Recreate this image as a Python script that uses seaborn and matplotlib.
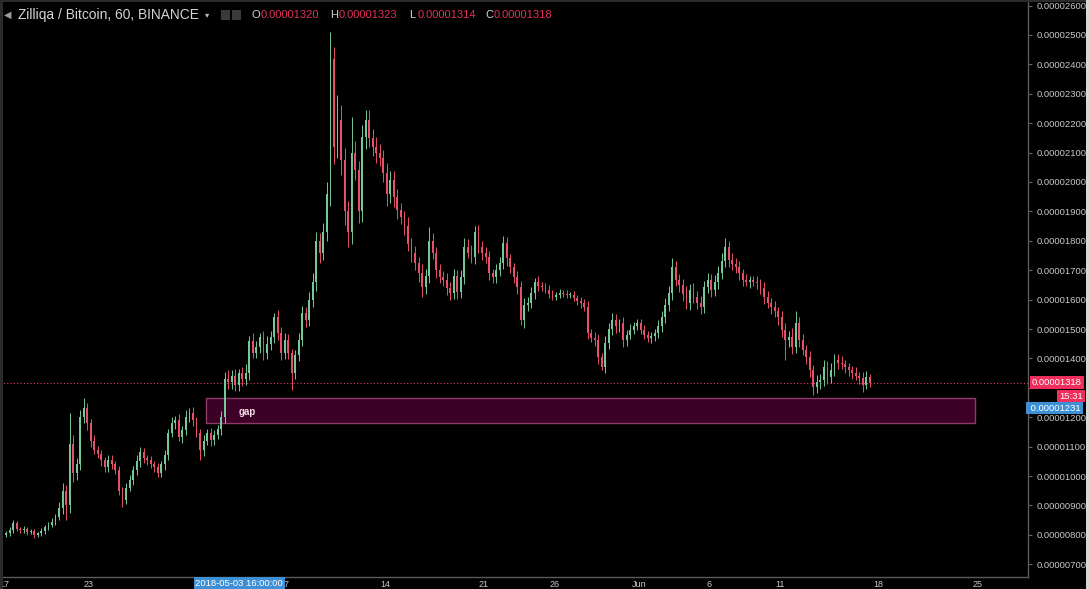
import numpy as np
import pandas as pd
import matplotlib
matplotlib.use("Agg")
import matplotlib.pyplot as plt
import seaborn as sns
from matplotlib.patches import Rectangle

# ZIL/BTC, prices in satoshi (1e-8 BTC), one candle per 6 hours starting 2018-04-17 00:00
close = [
    805, 815, 840, 820,   815, 820, 810, 812,   800, 805, 812, 825,   835, 845, 860, 890,
    950, 900, 1110, 1010,  1040, 1200, 1230, 1180,  1120, 1090, 1075, 1054,  1030, 1055, 1040, 1020,
    950, 920, 960, 986,   1020, 1050, 1080, 1060,  1054, 1040, 1030, 1010,  1040, 1070, 1146, 1180,
    1190, 1133, 1156, 1200,  1215, 1190, 1146, 1088,  1120, 1146, 1122, 1140,  1160, 1200, 1330, 1320,
    1340, 1310, 1350, 1330,  1350, 1460, 1420, 1440,  1473, 1418, 1450, 1473,  1540, 1486, 1418, 1463,
    1418, 1350, 1410, 1463,  1554, 1531, 1600, 1660,  1800, 1760, 1830, 1960,  2420, 2120, 2211, 2075,
    1900, 1830, 2100, 2041,  1900, 2153, 2211, 2150,  2119, 2099, 2080, 2031,  1960, 2007, 1950, 1905,
    1881, 1850, 1790, 1758,  1724, 1690, 1643, 1680,  1800, 1758, 1700, 1677,  1667, 1640, 1622, 1680,
    1626, 1677, 1780, 1760,  1745, 1830, 1779, 1760,  1745, 1690, 1677, 1700,  1724, 1793, 1740, 1711,
    1677, 1643, 1530, 1580,  1588, 1622, 1660, 1645,  1643, 1633, 1620, 1609,  1615, 1622, 1620, 1616,
    1616, 1605, 1595, 1588,  1575, 1486, 1470, 1463,  1405, 1371, 1452, 1500,  1531, 1510, 1520, 1463,
    1480, 1497, 1510, 1520,  1497, 1480, 1469, 1475,  1486, 1510, 1541, 1580,  1622, 1711, 1667, 1650,
    1620, 1588, 1633, 1610,  1588, 1575, 1643, 1667,  1633, 1660, 1690, 1730,  1780, 1735, 1720, 1711,
    1690, 1667, 1660, 1665,  1660, 1656, 1640, 1609,  1590, 1575, 1560, 1540,  1497, 1463, 1473, 1439,
    1520, 1463, 1430, 1405,  1361, 1303, 1320, 1327,  1371, 1337, 1360, 1395,  1384, 1380, 1371, 1360,
    1350, 1340, 1333, 1310,  1337, 1318,
]
wick_up = [
    8, 10, 12, 8,   8, 10, 6, 8,   8, 6, 10, 8,   10, 12, 10, 20,
    25, 20, 104, 30,  20, 25, 35, 20,  15, 20, 12, 15,  12, 15, 18, 12,
    15, 12, 15, 18,  15, 20, 18, 15,  12, 15, 10, 15,  12, 20, 15, 20,
    15, 20, 15, 24,  15, 20, 12, 15,  20, 15, 18, 15,  15, 20, 25, 30,
    20, 25, 15, 20,  30, 15, 25, 20,  15, 20, 25, 20,  15, 25, 20, 25,
    20, 15, 20, 25,  25, 20, 25, 30,  30, 25, 30, 40,  90, 40, 85, 50,
    40, 35, 120, 40,  30, 40, 34, 35,  30, 35, 30, 30,  35, 30, 30, 25,
    25, 20, 30, 20,  25, 20, 30, 25,  47, 25, 20, 20,  20, 25, 20, 25,
    20, 25, 30, 25,  25, 20, 25, 20,  20, 20, 15, 20,  20, 25, 20, 15,
    15, 20, 20, 25,  20, 20, 15, 20,  15, 12, 15, 12,  12, 15, 10, 12,
    10, 12, 10, 15,  15, 20, 15, 20,  20, 15, 25, 20,  25, 20, 15, 20,
    15, 20, 15, 15,  15, 15, 12, 15,  15, 20, 20, 25,  25, 30, 20, 20,
    20, 25, 20, 25,  20, 25, 20, 25,  20, 25, 25, 30,  30, 20, 25, 20,
    20, 15, 20, 15,  15, 20, 15, 20,  20, 15, 20, 15,  20, 25, 20, 30,
    40, 20, 20, 15,  20, 15, 25, 20,  25, 20, 25, 20,  20, 25, 15, 15,
    15, 20, 15, 20,  20, 10,
]
wick_dn = [
    8, 8, 10, 8,   10, 8, 10, 8,   10, 8, 8, 10,   10, 8, 12, 10,
    20, 50, 25, 30,  25, 20, 20, 25,  20, 15, 15, 20,  15, 18, 15, 12,
    15, 26, 15, 12,  15, 18, 20, 15,  15, 12, 15, 15,  15, 20, 15, 15,
    20, 15, 20, 15,  15, 20, 15, 34,  20, 15, 20, 15,  15, 20, 20, 25,
    25, 20, 20, 25,  20, 25, 20, 20,  20, 25, 20, 20,  20, 25, 25, 20,
    20, 58, 20, 20,  20, 25, 20, 25,  30, 35, 25, 30,  40, 60, 40, 50,
    45, 50, 40, 35,  40, 35, 40, 30,  30, 35, 25, 30,  40, 30, 35, 30,
    25, 30, 25, 30,  25, 30, 35, 25,  25, 20, 25, 20,  20, 25, 25, 20,
    25, 20, 25, 20,  20, 25, 20, 25,  20, 25, 20, 20,  20, 20, 25, 20,
    20, 25, 16, 25,  20, 15, 20, 15,  15, 12, 15, 12,  12, 10, 12, 10,
    12, 10, 12, 15,  15, 20, 15, 20,  25, 11, 20, 20,  20, 25, 20, 25,
    20, 15, 15, 15,  15, 15, 12, 15,  15, 15, 20, 20,  20, 25, 20, 25,
    25, 20, 25, 20,  20, 25, 20, 20,  25, 20, 25, 20,  20, 25, 20, 20,
    25, 20, 15, 20,  15, 20, 20, 25,  20, 25, 20, 25,  25, 68, 25, 25,
    20, 25, 20, 25,  25, 27, 20, 25,  20, 25, 20, 20,  20, 15, 20, 20,
    20, 15, 20, 25,  15, 15,
]
first_open = 800

# axis ticks (x in days since 2018-04-17); the May tick sits under the blue date marker
day_ticks = [0, 6, 20, 27, 34, 39, 45, 50, 55, 62, 69]
day_labels = ["17", "23", "7", "14", "21", "26", "Jun", "6", "11", "18", "25"]
price_ticks = list(range(700, 2700, 100))
hidden_price_labels = [1300]  # covered by the last-price / countdown tags

# "gap" box drawing and price markers
gap_low, gap_high = 1180, 1265
gap_start, gap_end = 14.3, 68.84
last_price = 1318
marker_price = 1231
marker_day = 16.667

df = pd.DataFrame({"close": close, "up": wick_up, "dn": wick_dn})
df["open"] = [first_open] + close[:-1]
df["high"] = df[["open", "close"]].max(axis=1) + df["up"]
df["low"] = df[["open", "close"]].min(axis=1) - df["dn"]
df["t"] = (np.arange(len(df)) + 0.5) * 0.25
rising = df["close"] >= df["open"]

sns.set_theme(style="dark")
plt.rcParams["font.family"] = ["Liberation Sans", "DejaVu Sans"]

W, H = 1089, 589
fig = plt.figure(figsize=(W / 100, H / 100), dpi=100, facecolor="#000000")
ax = fig.add_axes([0, 12 / H, 1028 / W, 577 / H])
ax.set_facecolor("#000000")

up_col, dn_col = "#74c99a", "#e8506a"

# gap rectangle (under the candles)
ax.add_patch(Rectangle((gap_start, gap_low), gap_end - gap_start, gap_high - gap_low,
                       facecolor="#3d0026", edgecolor="#8e3a68", lw=1.0, zorder=1))
ax.text(16.6, (gap_low + gap_high) / 2 - 6, "gap", color="#f2dce6", fontsize=7,
        fontweight="bold", ha="left", va="center", zorder=2)

for mask, col in [(rising, up_col), (~rising, dn_col)]:
    d = df[mask]
    ax.vlines(d["t"], d["low"], d["high"], color=col, lw=0.7, zorder=3)
    body = (d["close"] - d["open"]).abs().clip(lower=2)
    ax.bar(d["t"], body, bottom=d[["open", "close"]].min(axis=1), width=0.13,
           color=col, linewidth=0, zorder=4)

ax.axhline(last_price, color="#e0405e", lw=0.8, ls=(0, (1, 2)), zorder=2)

ax.set_xlim(-0.31, 72.6)
ax.set_ylim(656.5, 2619)
ax.set_xticks(day_ticks)
ax.set_xticklabels(day_labels)
ax.set_yticks(price_ticks)
ax.set_yticklabels(["" if p in hidden_price_labels else f"{p / 1e8:.8f}" for p in price_ticks])
ax.yaxis.tick_right()
ax.tick_params(axis="y", direction="out", length=3, width=0.8, colors="#6a6a6a",
               labelcolor="#c8c8c8", labelsize=6.8, pad=3)
ax.tick_params(axis="x", direction="out", length=2, width=0.8, colors="#6a6a6a",
               labelcolor="#c8c8c8", labelsize=6.5, pad=0.5)
ax.grid(False)
for side in ["top", "left"]:
    ax.spines[side].set_visible(False)
for side in ["right", "bottom"]:
    ax.spines[side].set_color("#5a5a5a")
    ax.spines[side].set_linewidth(1.0)
ax.set_xlabel("")
ax.set_ylabel("")

# price scale markers
ax.text(1.004, last_price, "0.00001318", transform=ax.get_yaxis_transform(), color="white",
        fontsize=6.8, ha="left", va="center", clip_on=False, zorder=6,
        bbox=dict(boxstyle="square,pad=0.2", facecolor="#ee2e5b", edgecolor="none"))
ax.text(1.0535, 1272, "15:31", transform=ax.get_yaxis_transform(), color="white",
        fontsize=6.8, ha="right", va="center", clip_on=False, zorder=6,
        bbox=dict(boxstyle="square,pad=0.2", facecolor="#ee2e5b", edgecolor="none"))
ax.text(1.0, marker_price, " 0.00001231", transform=ax.get_yaxis_transform(), color="white",
        fontsize=6.8, ha="left", va="center", clip_on=False, zorder=6,
        bbox=dict(boxstyle="square,pad=0.2", facecolor="#3d8fd6", edgecolor="none"))
ax.text(marker_day, -6.2 / 577, "2018-05-03 16:00:00", transform=ax.get_xaxis_transform(),
        color="white", fontsize=6.8, ha="center", va="center", clip_on=False, zorder=6,
        bbox=dict(boxstyle="square,pad=0.2", facecolor="#3d8fd6", edgecolor="none"))

# header line
ty = 1 - 15 / H
fig.text(18 / W, ty, "Zilliqa / Bitcoin, 60, BINANCE", color="#d4d4d4", fontsize=9.9, va="center")
fig.text(205 / W, ty, "▾", color="#bbbbbb", fontsize=6, va="center", family=["DejaVu Sans"])
fig.text(4 / W, ty, "◀", color="#9a9a9a", fontsize=7, va="center", family=["DejaVu Sans"])
fig.patches.append(Rectangle((221 / W, 1 - 20 / H), 9 / W, 10 / H, transform=fig.transFigure,
                             facecolor="#3a3a3a", edgecolor="none"))
fig.patches.append(Rectangle((232 / W, 1 - 20 / H), 9 / W, 10 / H, transform=fig.transFigure,
                             facecolor="#3a3a3a", edgecolor="none"))
ohlc = [("O", 252, "0.00001320"), ("H", 330, "0.00001323"), ("L", 409, "0.00001314"), ("C", 485, "0.00001318")]
for letter, x0, val in ohlc:
    fig.text(x0 / W, ty, letter, color="#d4d4d4", fontsize=8, va="center")
    fig.text((x0 + 9) / W, ty, val, color="#e0325a", fontsize=8, va="center")

# frame strips of the screenshot
fig.patches.append(Rectangle((0, 0), 3 / W, 1, transform=fig.transFigure, facecolor="#2b2b2b", edgecolor="none"))
fig.patches.append(Rectangle((0, 1 - 2 / H), 1, 2 / H, transform=fig.transFigure, facecolor="#2b2b2b", edgecolor="none"))
fig.patches.append(Rectangle((1086 / W, 0), 3 / W, 1, transform=fig.transFigure, facecolor="#d8d8d8", edgecolor="none"))

fig.savefig("out.png", dpi=100, facecolor="#000000")
